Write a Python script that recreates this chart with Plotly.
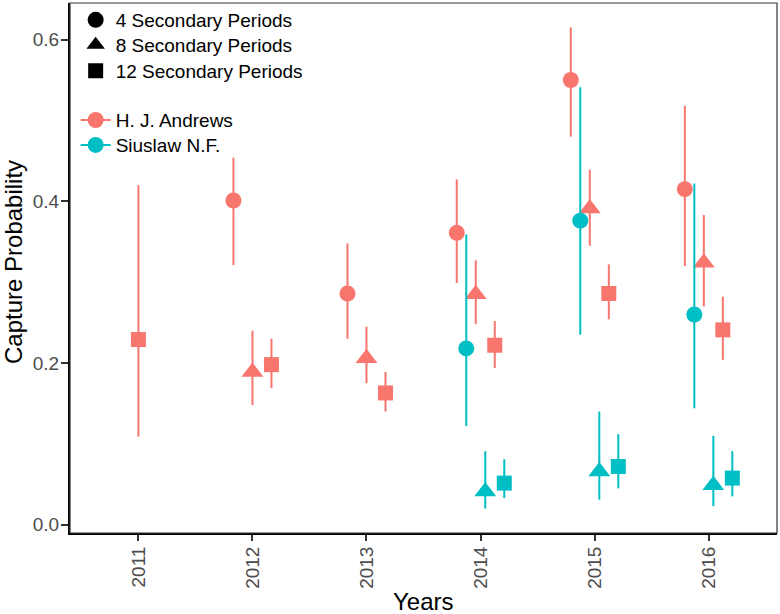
import plotly.graph_objects as go

# Capture probability estimates (with 95% CI) per year, site and number of secondary periods
years = ["2011", "2012", "2013", "2014", "2015", "2016"]
sites = ["H. J. Andrews", "Siuslaw N.F."]
periods = ["4 Secondary Periods", "8 Secondary Periods", "12 Secondary Periods"]

# H. J. Andrews
hja_p4 = [None, 0.401, 0.286, 0.361, 0.550, 0.415]
hja_p4_lo = [None, 0.321, 0.230, 0.299, 0.480, 0.320]
hja_p4_hi = [None, 0.454, 0.348, 0.427, 0.615, 0.518]
hja_p8 = [None, 0.189, 0.206, 0.285, 0.391, 0.324]
hja_p8_lo = [None, 0.148, 0.175, 0.248, 0.345, 0.270]
hja_p8_hi = [None, 0.240, 0.245, 0.327, 0.439, 0.383]
hja_p12 = [0.229, 0.198, 0.163, 0.222, 0.286, 0.241]
hja_p12_lo = [0.109, 0.169, 0.140, 0.194, 0.254, 0.204]
hja_p12_hi = [0.420, 0.230, 0.189, 0.252, 0.322, 0.282]

# Siuslaw N.F.
siu_p4 = [None, None, None, 0.218, 0.376, 0.260]
siu_p4_lo = [None, None, None, 0.122, 0.235, 0.144]
siu_p4_hi = [None, None, None, 0.359, 0.541, 0.422]
siu_p8 = [None, None, None, 0.041, 0.066, 0.049]
siu_p8_lo = [None, None, None, 0.020, 0.031, 0.023]
siu_p8_hi = [None, None, None, 0.091, 0.140, 0.110]
siu_p12 = [None, None, None, 0.0515, 0.072, 0.0577]
siu_p12_lo = [None, None, None, 0.033, 0.045, 0.035]
siu_p12_hi = [None, None, None, 0.081, 0.112, 0.091]

series = {
    ("H. J. Andrews", "4 Secondary Periods"): (hja_p4, hja_p4_lo, hja_p4_hi),
    ("H. J. Andrews", "8 Secondary Periods"): (hja_p8, hja_p8_lo, hja_p8_hi),
    ("H. J. Andrews", "12 Secondary Periods"): (hja_p12, hja_p12_lo, hja_p12_hi),
    ("Siuslaw N.F.", "4 Secondary Periods"): (siu_p4, siu_p4_lo, siu_p4_hi),
    ("Siuslaw N.F.", "8 Secondary Periods"): (siu_p8, siu_p8_lo, siu_p8_hi),
    ("Siuslaw N.F.", "12 Secondary Periods"): (siu_p12, siu_p12_lo, siu_p12_hi),
}

colors = {"H. J. Andrews": "#F8766D", "Siuslaw N.F.": "#00BFC4"}
symbols = {"4 Secondary Periods": "circle", "8 Secondary Periods": "triangle-up",
           "12 Secondary Periods": "square"}
sizes = {"circle": 16, "triangle-up": 19, "square": 15}

FONT = "Liberation Sans, Arial, sans-serif"

# dodge like ggplot: groups present in each year share a width of 0.5
order = [(s, p) for p in periods for s in sites]
dodge_width = 0.5
offsets = {}
for i in range(len(years)):
    present = [k for k in order if series[k][0][i] is not None]
    n = len(present)
    for j, k in enumerate(present):
        offsets[(k, i)] = -dodge_width / 2 + (j + 0.5) * dodge_width / n

fig = go.Figure()

for (site, per), (est, lo, hi) in series.items():
    xs, ys, up, dn = [], [], [], []
    for i in range(len(years)):
        if est[i] is None:
            continue
        xs.append(i + offsets[((site, per), i)])
        ys.append(est[i])
        up.append(hi[i] - est[i])
        dn.append(est[i] - lo[i])
    sym = symbols[per]
    fig.add_trace(go.Scatter(
        x=xs, y=ys, mode="markers",
        marker=dict(symbol=sym, size=sizes[sym], color=colors[site], line=dict(width=0)),
        error_y=dict(type="data", array=up, arrayminus=dn, width=0,
                     thickness=2, color=colors[site]),
        showlegend=False,
    ))

# legend: one small legend per row so the rows sit like the ggplot keys
legend_rows = [0.968, 0.921, 0.872, 0.779, 0.732]
legend_names = ["legend", "legend2", "legend3", "legend4", "legend5"]

for k, per in enumerate(periods):
    sym = symbols[per]
    fig.add_trace(go.Scatter(
        x=[None], y=[None], mode="markers", name=per, legend=legend_names[k],
        marker=dict(symbol=sym, size=sizes[sym], color="black"),
    ))
for k, site in enumerate(sites):
    fig.add_trace(go.Scatter(
        x=[None], y=[None], mode="lines+markers", name=site,
        legend=legend_names[3 + k],
        marker=dict(symbol="circle", size=16, color=colors[site]),
        line=dict(color=colors[site], width=2),
    ))

legend_style = dict(x=0.008, xanchor="left", yanchor="middle",
                    bgcolor="rgba(0,0,0,0)", font=dict(size=19, color="black"))
legends = {name: dict(legend_style, y=yy) for name, yy in zip(legend_names, legend_rows)}

fig.update_layout(
    width=780, height=614,
    margin=dict(l=70, r=3, t=3, b=81, autoexpand=False),
    paper_bgcolor="white", plot_bgcolor="white",
    font=dict(family=FONT, color="black"),
    showlegend=True,
    xaxis=dict(
        range=[-0.6, 5.6], tickmode="array", tickvals=list(range(len(years))),
        ticktext=years, tickangle=-90, showgrid=False, zeroline=False,
        showline=True, linecolor="black", linewidth=2, automargin=False,
        ticks="outside", ticklen=6, tickcolor="#333333", tickwidth=1.5,
        tickfont=dict(size=19, color="#4D4D4D"), ticklabelstandoff=-2,
    ),
    yaxis=dict(
        range=[-0.0102, 0.6452], tickvals=[0.0, 0.2, 0.4, 0.6],
        ticktext=["0.0", "0.2", "0.4", "0.6"], showgrid=False, zeroline=False,
        showline=True, linecolor="black", linewidth=2, automargin=False,
        ticks="outside", ticklen=7, tickcolor="#333333", tickwidth=1.5,
        tickfont=dict(size=19, color="#4D4D4D"), ticklabelstandoff=-2,
    ),
    annotations=[
        dict(text="Years", xref="paper", yref="paper", x=0.5, y=0,
             xanchor="center", yanchor="middle", yshift=-68, showarrow=False,
             font=dict(size=24, color="black")),
        dict(text="Capture Probability", xref="paper", yref="paper", x=0, y=0.5,
             xanchor="center", yanchor="middle", xshift=-57, yshift=6,
             textangle=-90, showarrow=False, font=dict(size=24, color="black")),
    ],
    shapes=[dict(type="rect", xref="paper", yref="paper", x0=0, y0=0, x1=1, y1=1,
                 line=dict(color="#333333", width=1.2), layer="above")],
    **legends,
)

# drop the browser's default 8px body margin so the figure fills the window
fig.write_html("out.html", config={"displayModeBar": False},
               post_script="document.body.style.margin = '0px';")
